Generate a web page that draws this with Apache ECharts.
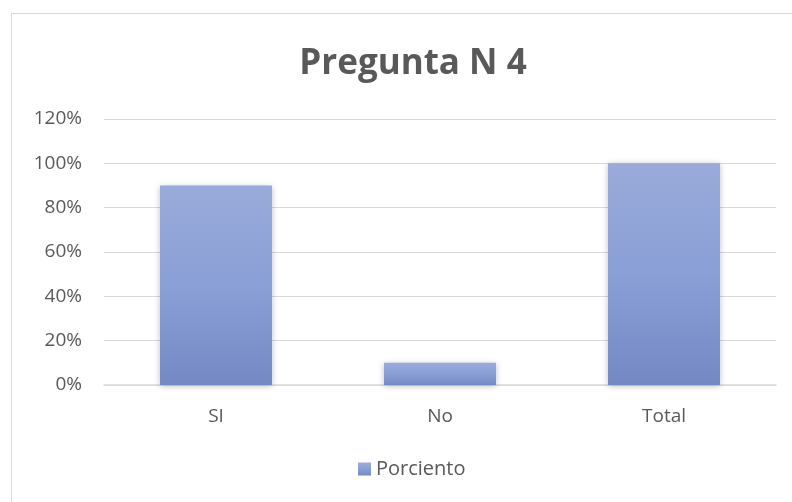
<!DOCTYPE html>
<html><head><meta charset="utf-8">
<script src="https://cdn.jsdelivr.net/npm/echarts@6/dist/echarts.min.js"></script>
<style>html,body{margin:0;padding:0;background:#fff}#c{width:792px;height:502px;position:relative}
#frame{position:absolute;left:11px;top:13px;width:800px;height:500px;border:1px solid #d9d9d9;box-sizing:border-box;pointer-events:none}</style>
</head><body><div id="c"></div><div id="frame"></div>
<script>
const categories = ['SI', 'No', 'Total'];
const porciento = [0.90, 0.10, 1.00];
const seriesName = 'Porciento';
const titleText = 'Pregunta N 4';

const chart = echarts.init(document.getElementById('c'));
chart.setOption({
  animation: false,
  title: {text: titleText, left: 408, top: 42, textAlign: 'center',
    textStyle: {fontFamily: 'Open Sans', fontWeight: 'bold', fontSize: 35, color: '#595959'}},
  legend: {bottom: 18, left: 353, itemWidth: 13, itemHeight: 13, itemGap: 6,
    textStyle: {fontFamily: 'Open Sans', fontSize: 20, color: '#595959'},
    data: [{name: seriesName, icon: 'rect'}]},
  grid: {left: 104, right: 16, top: 119, bottom: 117},
  xAxis: {type: 'category', data: categories,
    axisLine: {lineStyle: {color: '#d9d9d9', width: 1.5}}, axisTick: {show: false},
    axisLabel: {fontFamily: 'Open Sans', fontSize: 19, color: '#595959', margin: 22}},
  yAxis: {type: 'value', min: 0, max: 1.2, interval: 0.2,
    axisLine: {show: false}, axisTick: {show: false},
    splitLine: {lineStyle: {color: '#d9d9d9', width: 1}},
    axisLabel: {fontFamily: 'Open Sans', fontSize: 19, color: '#595959', margin: 22,
      formatter: v => Math.round(v * 100) + '%'}},
  series: [{name: seriesName, type: 'bar', data: porciento, barCategoryGap: '50%',
    itemStyle: {
      color: new echarts.graphic.LinearGradient(0, 0, 0, 1, [
        {offset: 0, color: '#9aabda'}, {offset: 0.5, color: '#8a9fd6'}, {offset: 1, color: '#7489c4'}]),
      shadowBlur: 6, shadowColor: 'rgba(0,0,0,0.25)', shadowOffsetY: 1}}]
});
</script></body></html>
